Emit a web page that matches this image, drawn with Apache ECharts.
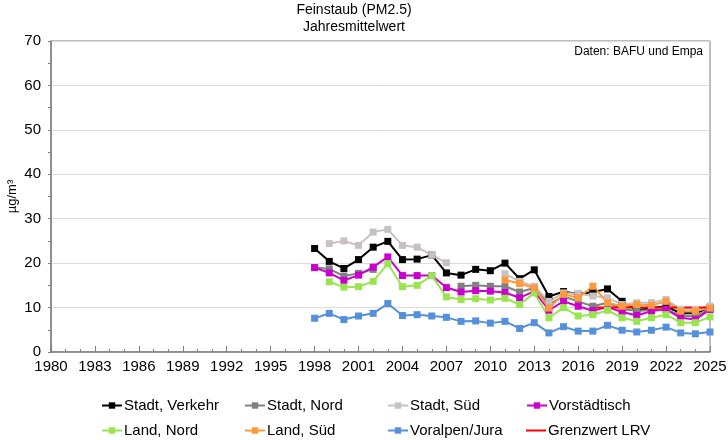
<!DOCTYPE html>
<html>
<head>
<meta charset="utf-8">
<script src="https://cdn.jsdelivr.net/npm/echarts@6/dist/echarts.min.js"></script>
<style>
  html, body { margin: 0; padding: 0; background: #fff; }
  #main { width: 728px; height: 440px; }
</style>
</head>
<body>
<div id="main"></div>
<script>
// Jahre 1998 - 2025
var years = [1998, 1999, 2000, 2001, 2002, 2003, 2004, 2005, 2006, 2007, 2008, 2009, 2010, 2011,
             2012, 2013, 2014, 2015, 2016, 2017, 2018, 2019, 2020, 2021, 2022, 2023, 2024, 2025];

var stadtVerkehr = [23.3, 20.4, 18.8, 20.8, 23.6, 24.9, 20.8, 20.9, 21.8, 17.8, 17.3, 18.6, 18.3, 20.0,
                    16.5, 18.5, 12.5, 13.6, 13.0, 13.5, 14.2, 11.4, 9.4, 9.9, 10.3, 8.7, 8.7, 10.0];
var stadtNord = [19.0, 18.7, 17.1, 17.7, 18.6, null, null, null, null, null, 14.8, 15.0, 14.8, 14.8,
                 13.5, 14.4, 10.7, 12.5, 11.4, 10.3, 11.1, 9.6, 9.3, 9.4, 9.6, 8.2, 8.0, 9.6];
var stadtSued = [null, 24.4, 25.0, 24.0, 27.0, 27.6, 24.0, 23.6, 21.8, 20.1, null, null, null, 17.6,
                 15.9, 14.8, 11.4, 13.3, 13.1, 12.6, 12.2, 10.7, 11.1, 11.1, 11.8, 9.6, 9.6, 10.3];
var vorstaedtisch = [19.0, 17.8, 16.1, 17.3, 19.1, 21.4, 17.2, 17.2, 17.2, 14.5, 13.5, 13.8, 13.7, 13.4,
                     12.2, 13.7, 9.4, 11.4, 10.3, 9.3, 10.1, 9.0, 8.2, 9.2, 9.6, 7.7, 7.3, 9.6];
var landNord = [null, 15.8, 14.6, 14.7, 15.9, 19.9, 14.7, 15.0, 17.2, 12.4, 11.8, 12.0, 11.7, 12.1,
                10.7, 13.3, 7.7, 10.0, 8.1, 8.4, 9.4, 7.7, 6.9, 7.7, 8.4, 6.6, 6.6, 7.9];
var landSued = [null, null, null, null, null, null, null, null, null, null, null, null, null, 16.2,
                15.4, 14.4, 9.9, 13.0, 12.2, 14.8, 11.1, 10.3, 10.7, 10.5, 11.4, 9.2, 9.2, 9.9];
var voralpenJura = [7.6, 8.7, 7.3, 8.1, 8.7, 10.9, 8.2, 8.4, 8.1, 7.8, 6.9, 7.0, 6.5, 6.9,
                    5.3, 6.6, 4.3, 5.7, 4.7, 4.7, 6.0, 4.9, 4.5, 4.9, 5.6, 4.3, 4.1, 4.5];

var grenzwertYears = [2017, 2025];
var grenzwert = [10, 10];

var names = ['Stadt, Verkehr', 'Stadt, Nord', 'Stadt, Süd', 'Vorstädtisch',
             'Land, Nord', 'Land, Süd', 'Voralpen/Jura', 'Grenzwert LRV'];
var colors = ['#000000', '#808080', '#c9c1c1', '#cc00cc', '#99e550', '#ff9a3c', '#5590da', '#ff0000'];

function pairs(xs, ys) {
    return xs.map(function (x, i) { return [x, ys[i]]; });
}

var lineSeries = [stadtVerkehr, stadtNord, stadtSued, vorstaedtisch, landNord, landSued, voralpenJura]
    .map(function (vals, i) {
        return {
            name: names[i],
            type: 'line',
            data: pairs(years, vals),
            symbol: 'rect',
            symbolSize: 7,
            connectNulls: false,
            lineStyle: { width: 2, color: colors[i] },
            itemStyle: { color: colors[i] }
        };
    });

lineSeries.push({
    name: names[7],
    type: 'line',
    data: pairs(grenzwertYears, grenzwert),
    symbol: 'none',
    lineStyle: { width: 2, color: colors[7] },
    itemStyle: { color: colors[7] }
});

// Legende: 2 Zeilen x 4 Spalten
var legendLeft = [101, 244, 387, 526];
var legendTop = [398, 423];
var legends = names.map(function (n, i) {
    var item = { name: n };
    if (i === 7) item.icon = 'path://M0,0 L20,0 L20,2 L0,2 Z';
    return {
        data: [item],
        left: legendLeft[i % 4],
        top: legendTop[Math.floor(i / 4)],
        itemWidth: 20,
        itemHeight: 8,
        itemGap: 0,
        padding: 0,
        selectedMode: false,
        textStyle: { fontFamily: 'Liberation Sans', fontSize: 15, color: '#000', padding: [0, 0, 0, -3] }
    };
});

var myChart = echarts.init(document.getElementById('main'));
var option = {
    animation: false,
    color: colors,
    title: [
        {
            text: 'Feinstaub (PM2.5)\nJahresmittelwert',
            left: 349,
            top: -3,
            textAlign: 'center',
            textStyle: { fontFamily: 'Liberation Sans', fontSize: 14, fontWeight: 'normal', color: '#000', lineHeight: 17 }
        }
    ],
    graphic: [
        {
            type: 'text',
            right: 25,
            top: 46,
            style: { text: 'Daten: BAFU und Empa', font: '12px "Liberation Sans"', fill: '#000' }
        }
    ],
    legend: legends,
    grid: {
        left: 51,
        right: 18,
        top: 41,
        bottom: 88,
        outerBoundsMode: 'none',
        containLabel: false,
        show: true,
        borderColor: '#7f7f7f',
        borderWidth: 1
    },
    xAxis: {
        type: 'value',
        min: 1980,
        max: 2025,
        interval: 3,
        axisLine: { lineStyle: { color: '#7f7f7f', width: 1.5 } },
        axisTick: { inside: true, length: 6, lineStyle: { color: '#7f7f7f' } },
        minorTick: { show: true, splitNumber: 3, length: 3, lineStyle: { color: '#7f7f7f' } },
        splitLine: { show: false },
        axisLabel: {
            fontFamily: 'Liberation Sans', fontSize: 15, color: '#000', margin: 7,
            formatter: function (v) { return String(v); }
        }
    },
    yAxis: {
        type: 'value',
        min: 0,
        max: 70,
        interval: 10,
        name: 'µg/m³',
        nameLocation: 'middle',
        nameGap: 32,
        nameMoveOverlap: false,
        nameTextStyle: { fontFamily: 'Liberation Sans', fontSize: 13, color: '#000' },
        axisLine: { show: true, lineStyle: { color: '#7f7f7f', width: 1.5 } },
        axisTick: { show: true, inside: false, length: 3, lineStyle: { color: '#7f7f7f' } },
        minorTick: { show: true, splitNumber: 2, length: 3, lineStyle: { color: '#7f7f7f' } },
        splitLine: { show: true, lineStyle: { color: '#dcdcdc', width: 1 } },
        axisLabel: { fontFamily: 'Liberation Sans', fontSize: 15, color: '#000', margin: 10 }
    },
    series: lineSeries
};
myChart.setOption(option);
</script>
</body>
</html>
